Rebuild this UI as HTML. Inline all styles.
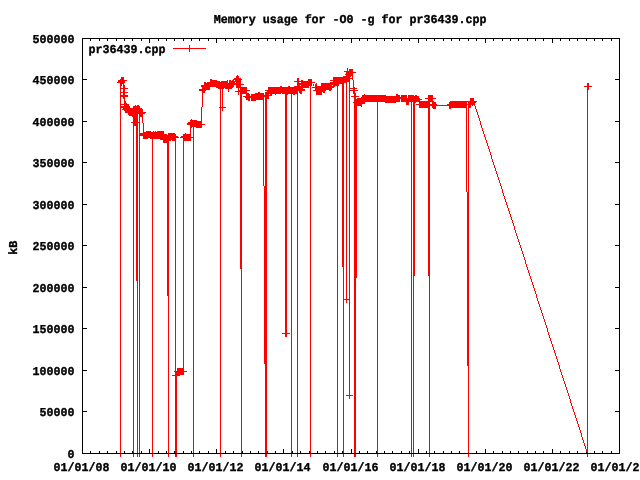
<!DOCTYPE html>
<html><head><meta charset="utf-8"><title>Memory usage for -O0 -g for pr36439.cpp</title>
<style>
html,body{margin:0;padding:0;background:#fff;overflow:hidden}
svg{display:block}
text{font-family:"Liberation Mono","DejaVu Sans Mono",monospace;font-weight:bold;font-size:11.667px;fill:#000;stroke:#000;stroke-width:0.35px;text-rendering:geometricPrecision;}
</style></head>
<body>
<svg width="640" height="480" viewBox="0 0 640 480">
<rect width="640" height="480" fill="#fff"/>
<g>
<text transform="translate(350.1 23) scale(1 1.03)" text-anchor="middle">Memory usage for -O0 -g for pr36439.cpp</text>
<text transform="translate(74.5 457.8) scale(1 1.03)" text-anchor="end">0</text>
<text transform="translate(74.5 415.8) scale(1 1.03)" text-anchor="end">50000</text>
<text transform="translate(74.5 374.8) scale(1 1.03)" text-anchor="end">100000</text>
<text transform="translate(74.5 332.8) scale(1 1.03)" text-anchor="end">150000</text>
<text transform="translate(74.5 291.8) scale(1 1.03)" text-anchor="end">200000</text>
<text transform="translate(74.5 249.8) scale(1 1.03)" text-anchor="end">250000</text>
<text transform="translate(74.5 208.8) scale(1 1.03)" text-anchor="end">300000</text>
<text transform="translate(74.5 166.8) scale(1 1.03)" text-anchor="end">350000</text>
<text transform="translate(74.5 125.8) scale(1 1.03)" text-anchor="end">400000</text>
<text transform="translate(74.5 83.8) scale(1 1.03)" text-anchor="end">450000</text>
<text transform="translate(74.5 42.8) scale(1 1.03)" text-anchor="end">500000</text>
<text transform="translate(53.5 470.8) scale(1 1.03)" text-anchor="start">01/01/08</text>
<text transform="translate(120.5 470.8) scale(1 1.03)" text-anchor="start">01/01/10</text>
<text transform="translate(187.5 470.8) scale(1 1.03)" text-anchor="start">01/01/12</text>
<text transform="translate(254.5 470.8) scale(1 1.03)" text-anchor="start">01/01/14</text>
<text transform="translate(322.5 470.8) scale(1 1.03)" text-anchor="start">01/01/16</text>
<text transform="translate(389.5 470.8) scale(1 1.03)" text-anchor="start">01/01/18</text>
<text transform="translate(456.5 470.8) scale(1 1.03)" text-anchor="start">01/01/20</text>
<text transform="translate(523.5 470.8) scale(1 1.03)" text-anchor="start">01/01/22</text>
<text transform="translate(590.5 470.8) scale(1 1.03)" text-anchor="start">01/01/2<tspan dx="1.5">4</tspan></text>
<text transform="translate(88.5 52.8) scale(1 1.03)" text-anchor="start">pr36439.cpp</text>
<text transform="translate(16.8 247.8) rotate(-90) scale(1 1.03)" text-anchor="middle">kB</text>
</g>
<path shape-rendering="crispEdges" fill="#000" d="M83 453h4v1h-4zM615 453h4v1h-4zM83 411h4v1h-4zM615 411h4v1h-4zM83 370h4v1h-4zM615 370h4v1h-4zM83 328h4v1h-4zM615 328h4v1h-4zM83 287h4v1h-4zM615 287h4v1h-4zM83 245h4v1h-4zM615 245h4v1h-4zM83 204h4v1h-4zM615 204h4v1h-4zM83 162h4v1h-4zM615 162h4v1h-4zM83 121h4v1h-4zM615 121h4v1h-4zM83 79h4v1h-4zM615 79h4v1h-4zM83 38h4v1h-4zM615 38h4v1h-4zM82 449h1v4h-1zM82 39h1v4h-1zM90 451h1v2h-1zM90 39h1v2h-1zM99 451h1v2h-1zM99 39h1v2h-1zM107 451h1v2h-1zM107 39h1v2h-1zM116 451h1v2h-1zM116 39h1v2h-1zM124 451h1v2h-1zM124 39h1v2h-1zM132 451h1v2h-1zM132 39h1v2h-1zM141 451h1v2h-1zM141 39h1v2h-1zM149 449h1v4h-1zM149 39h1v4h-1zM158 451h1v2h-1zM158 39h1v2h-1zM166 451h1v2h-1zM166 39h1v2h-1zM174 451h1v2h-1zM174 39h1v2h-1zM183 451h1v2h-1zM183 39h1v2h-1zM191 451h1v2h-1zM191 39h1v2h-1zM199 451h1v2h-1zM199 39h1v2h-1zM208 451h1v2h-1zM208 39h1v2h-1zM216 449h1v4h-1zM216 39h1v4h-1zM225 451h1v2h-1zM225 39h1v2h-1zM233 451h1v2h-1zM233 39h1v2h-1zM242 451h1v2h-1zM242 39h1v2h-1zM250 451h1v2h-1zM250 39h1v2h-1zM258 451h1v2h-1zM258 39h1v2h-1zM267 451h1v2h-1zM267 39h1v2h-1zM275 451h1v2h-1zM275 39h1v2h-1zM283 449h1v4h-1zM283 39h1v4h-1zM292 451h1v2h-1zM292 39h1v2h-1zM300 451h1v2h-1zM300 39h1v2h-1zM309 451h1v2h-1zM309 39h1v2h-1zM317 451h1v2h-1zM317 39h1v2h-1zM325 451h1v2h-1zM325 39h1v2h-1zM334 451h1v2h-1zM334 39h1v2h-1zM342 451h1v2h-1zM342 39h1v2h-1zM351 449h1v4h-1zM351 39h1v4h-1zM359 451h1v2h-1zM359 39h1v2h-1zM367 451h1v2h-1zM367 39h1v2h-1zM376 451h1v2h-1zM376 39h1v2h-1zM384 451h1v2h-1zM384 39h1v2h-1zM392 451h1v2h-1zM392 39h1v2h-1zM401 451h1v2h-1zM401 39h1v2h-1zM409 451h1v2h-1zM409 39h1v2h-1zM418 449h1v4h-1zM418 39h1v4h-1zM426 451h1v2h-1zM426 39h1v2h-1zM434 451h1v2h-1zM434 39h1v2h-1zM443 451h1v2h-1zM443 39h1v2h-1zM451 451h1v2h-1zM451 39h1v2h-1zM459 451h1v2h-1zM459 39h1v2h-1zM468 451h1v2h-1zM468 39h1v2h-1zM476 451h1v2h-1zM476 39h1v2h-1zM485 449h1v4h-1zM485 39h1v4h-1zM493 451h1v2h-1zM493 39h1v2h-1zM502 451h1v2h-1zM502 39h1v2h-1zM510 451h1v2h-1zM510 39h1v2h-1zM518 451h1v2h-1zM518 39h1v2h-1zM527 451h1v2h-1zM527 39h1v2h-1zM535 451h1v2h-1zM535 39h1v2h-1zM543 451h1v2h-1zM543 39h1v2h-1zM552 449h1v4h-1zM552 39h1v4h-1zM560 451h1v2h-1zM560 39h1v2h-1zM569 451h1v2h-1zM569 39h1v2h-1zM577 451h1v2h-1zM577 39h1v2h-1zM586 451h1v2h-1zM586 39h1v2h-1zM594 451h1v2h-1zM594 39h1v2h-1zM602 451h1v2h-1zM602 39h1v2h-1zM611 451h1v2h-1zM611 39h1v2h-1zM619 449h1v4h-1zM619 39h1v4h-1z"/>
<path shape-rendering="crispEdges" fill="#f00" d="M118 80v3h1v-3zM119 80v3h1v-3zM120 79v378h1v-378zM121 77v9h1v-9zM122 77v7h1v-7zM123 77v22h1v-22zM123 106v4h1v-4zM124 80v3h1v-3zM124 85v26h1v-26zM125 101v12h1v-12zM126 103v10h1v-10zM127 104v9h1v-9zM128 104v11h1v-11zM129 106v10h1v-10zM130 108v8h1v-8zM131 108v8h1v-8zM132 108v9h1v-9zM133 106v351h1v-351zM134 106v20h1v-20zM135 105v21h1v-21zM136 106v175h1v-175zM137 105v352h1v-352zM138 105v9h1v-9zM139 106v351h1v-351zM140 108v9h1v-9zM140 133v3h1v-3zM141 108v9h1v-9zM141 133v3h1v-3zM142 109v14h1v-14zM142 133v3h1v-3zM143 123v16h1v-16zM144 132v7h1v-7zM145 132v7h1v-7zM146 131v8h1v-8zM147 131v8h1v-8zM148 131v7h1v-7zM149 131v7h1v-7zM150 131v8h1v-8zM151 132v7h1v-7zM152 132v325h1v-325zM153 131v8h1v-8zM154 132v7h1v-7zM155 131v8h1v-8zM156 132v7h1v-7zM157 131v8h1v-8zM158 131v8h1v-8zM159 131v8h1v-8zM160 131v9h1v-9zM161 131v9h1v-9zM162 131v9h1v-9zM163 131v12h1v-12zM164 134v9h1v-9zM165 134v9h1v-9zM166 134v9h1v-9zM167 135v161h1v-161zM168 133v324h1v-324zM169 133v8h1v-8zM170 133v8h1v-8zM171 133v7h1v-7zM172 133v8h1v-8zM173 133v8h1v-8zM174 133v8h1v-8zM175 134v323h1v-323zM176 371v86h1v-86zM177 368v8h1v-8zM178 368v8h1v-8zM179 368v8h1v-8zM180 368v7h1v-7zM181 368v7h1v-7zM182 368v7h1v-7zM183 134v241h1v-241zM184 134v7h1v-7zM185 133v8h1v-8zM186 134v7h1v-7zM187 134v7h1v-7zM188 122v3h1v-3zM188 134v7h1v-7zM189 45v7h1v-7zM189 122v3h1v-3zM189 134v7h1v-7zM190 120v21h1v-21zM191 119v9h1v-9zM192 120v7h1v-7zM193 120v337h1v-337zM194 120v7h1v-7zM195 120v7h1v-7zM196 120v8h1v-8zM197 121v7h1v-7zM198 121v7h1v-7zM199 121v7h1v-7zM200 121v7h1v-7zM201 107v21h1v-21zM202 85v22h1v-22zM203 85v8h1v-8zM204 82v11h1v-11zM205 82v9h1v-9zM206 83v7h1v-7zM207 82v8h1v-8zM208 82v8h1v-8zM209 82v8h1v-8zM210 79v8h1v-8zM211 79v8h1v-8zM212 80v7h1v-7zM213 80v7h1v-7zM214 80v7h1v-7zM215 80v7h1v-7zM216 80v8h1v-8zM217 81v7h1v-7zM218 81v8h1v-8zM219 81v8h1v-8zM220 82v375h1v-375zM221 81v8h1v-8zM222 81v30h1v-30zM223 81v8h1v-8zM224 81v7h1v-7zM225 81v8h1v-8zM226 81v8h1v-8zM227 80v9h1v-9zM228 83v9h1v-9zM229 80v9h1v-9zM230 80v9h1v-9zM231 81v8h1v-8zM232 80v8h1v-8zM233 79v8h1v-8zM234 81v4h1v-4zM235 78v4h1v-4zM236 76v12h1v-12zM237 75v13h1v-13zM238 76v19h1v-19zM239 78v10h1v-10zM240 78v191h1v-191zM241 87v370h1v-370zM242 87v7h1v-7zM243 87v7h1v-7zM244 87v7h1v-7zM245 87v7h1v-7zM246 87v13h1v-13zM247 93v7h1v-7zM248 93v8h1v-8zM249 94v7h1v-7zM251 94v7h1v-7zM252 94v7h1v-7zM253 94v7h1v-7zM254 94v7h1v-7zM255 93v8h1v-8zM256 93v7h1v-7zM257 93v7h1v-7zM258 92v8h1v-8zM259 92v8h1v-8zM260 93v7h1v-7zM261 93v7h1v-7zM262 93v7h1v-7zM263 93v93h1v-93zM264 186v178h1v-178zM265 92v365h1v-365zM266 92v365h1v-365zM267 90v9h1v-9zM268 87v12h1v-12zM269 87v7h1v-7zM270 87v9h1v-9zM271 87v9h1v-9zM272 87v7h1v-7zM273 87v7h1v-7zM274 87v7h1v-7zM275 87v8h1v-8zM276 87v7h1v-7zM277 87v7h1v-7zM278 87v7h1v-7zM279 87v7h1v-7zM280 86v8h1v-8zM281 86v7h1v-7zM282 87v7h1v-7zM283 87v7h1v-7zM284 87v7h1v-7zM285 87v250h1v-250zM286 87v250h1v-250zM287 87v8h1v-8zM288 86v8h1v-8zM289 86v8h1v-8zM290 87v7h1v-7zM291 87v370h1v-370zM292 87v7h1v-7zM293 87v8h1v-8zM294 86v9h1v-9zM295 86v8h1v-8zM296 86v8h1v-8zM297 78v379h1v-379zM298 78v13h1v-13zM299 83v10h1v-10zM300 86v8h1v-8zM301 80v14h1v-14zM302 80v11h1v-11zM303 81v7h1v-7zM304 81v7h1v-7zM305 81v7h1v-7zM306 81v7h1v-7zM307 81v7h1v-7zM308 79v9h1v-9zM309 79v7h1v-7zM310 79v378h1v-378zM311 79v7h1v-7zM315 84v7h1v-7zM316 83v12h1v-12zM317 86v9h1v-9zM318 86v9h1v-9zM319 86v9h1v-9zM320 86v9h1v-9zM321 83v12h1v-12zM322 83v9h1v-9zM323 83v10h1v-10zM324 83v10h1v-10zM325 83v8h1v-8zM326 83v7h1v-7zM327 83v7h1v-7zM328 83v7h1v-7zM329 83v8h1v-8zM330 82v9h1v-9zM331 82v8h1v-8zM332 82v3h1v-3zM333 77v11h1v-11zM334 77v10h1v-10zM335 77v9h1v-9zM336 77v9h1v-9zM337 77v380h1v-380zM338 77v9h1v-9zM339 77v7h1v-7zM340 77v7h1v-7zM341 77v7h1v-7zM342 77v190h1v-190zM343 76v381h1v-381zM344 76v7h1v-7zM345 76v7h1v-7zM346 71v232h1v-232zM347 68v14h1v-14zM348 71v11h1v-11zM349 69v330h1v-330zM350 69v8h1v-8zM351 69v7h1v-7zM352 69v11h1v-11zM353 80v14h1v-14zM354 87v370h1v-370zM355 93v364h1v-364zM356 99v179h1v-179zM357 98v8h1v-8zM358 98v8h1v-8zM359 98v8h1v-8zM360 98v8h1v-8zM361 97v10h1v-10zM362 95v9h1v-9zM363 95v9h1v-9zM364 94v10h1v-10zM365 95v7h1v-7zM366 95v7h1v-7zM367 95v7h1v-7zM368 95v7h1v-7zM369 95v7h1v-7zM370 95v7h1v-7zM371 95v7h1v-7zM372 95v7h1v-7zM373 95v7h1v-7zM374 95v7h1v-7zM375 95v7h1v-7zM376 95v7h1v-7zM377 95v362h1v-362zM378 95v7h1v-7zM379 95v7h1v-7zM380 95v7h1v-7zM381 95v7h1v-7zM382 95v7h1v-7zM383 95v7h1v-7zM384 95v7h1v-7zM385 95v8h1v-8zM386 96v7h1v-7zM387 96v7h1v-7zM388 96v7h1v-7zM389 96v7h1v-7zM390 96v7h1v-7zM391 96v7h1v-7zM392 96v7h1v-7zM393 96v7h1v-7zM394 96v7h1v-7zM395 96v7h1v-7zM396 94v8h1v-8zM397 94v8h1v-8zM398 95v7h1v-7zM399 95v7h1v-7zM401 95v7h1v-7zM402 95v7h1v-7zM403 95v7h1v-7zM404 95v7h1v-7zM405 95v7h1v-7zM406 95v10h1v-10zM407 98v7h1v-7zM408 95v10h1v-10zM409 95v7h1v-7zM410 95v7h1v-7zM411 95v362h1v-362zM412 95v7h1v-7zM413 95v362h1v-362zM414 96v180h1v-180zM415 95v8h1v-8zM416 95v7h1v-7zM417 96v6h1v-6zM418 96v6h1v-6zM419 98v10h1v-10zM420 101v7h1v-7zM421 101v7h1v-7zM422 101v7h1v-7zM423 101v7h1v-7zM424 101v7h1v-7zM425 101v7h1v-7zM426 101v7h1v-7zM427 101v7h1v-7zM428 95v181h1v-181zM429 95v362h1v-362zM430 95v7h1v-7zM431 95v7h1v-7zM432 95v13h1v-13zM433 101v8h1v-8zM434 102v7h1v-7zM435 102v7h1v-7zM449 102v7h1v-7zM450 101v8h1v-8zM451 101v7h1v-7zM452 101v7h1v-7zM453 101v7h1v-7zM454 101v7h1v-7zM455 101v7h1v-7zM456 101v7h1v-7zM457 101v7h1v-7zM458 101v7h1v-7zM459 101v7h1v-7zM460 101v7h1v-7zM461 101v7h1v-7zM462 101v7h1v-7zM463 101v7h1v-7zM464 101v7h1v-7zM465 101v7h1v-7zM466 101v91h1v-91zM467 192v174h1v-174zM468 101v356h1v-356zM469 101v7h1v-7zM470 98v10h1v-10zM471 98v7h1v-7zM472 98v8h1v-8zM473 98v7h1v-7zM474 101v5h1v-5zM475 106v3h1v-3zM476 109v3h1v-3zM477 112v3h1v-3zM478 115v3h1v-3zM479 118v3h1v-3zM480 121v4h1v-4zM481 125v3h1v-3zM482 128v3h1v-3zM483 131v3h1v-3zM484 134v3h1v-3zM485 137v3h1v-3zM486 140v3h1v-3zM487 143v3h1v-3zM488 146v3h1v-3zM489 149v3h1v-3zM490 152v3h1v-3zM491 155v4h1v-4zM492 159v3h1v-3zM493 162v3h1v-3zM494 165v3h1v-3zM495 168v3h1v-3zM496 171v3h1v-3zM497 174v3h1v-3zM498 177v3h1v-3zM499 180v3h1v-3zM500 183v3h1v-3zM501 186v3h1v-3zM502 189v4h1v-4zM503 193v3h1v-3zM504 196v3h1v-3zM505 199v3h1v-3zM506 202v3h1v-3zM507 205v3h1v-3zM508 208v3h1v-3zM509 211v3h1v-3zM510 214v3h1v-3zM511 217v3h1v-3zM512 220v3h1v-3zM513 223v3h1v-3zM514 226v4h1v-4zM515 230v3h1v-3zM516 233v3h1v-3zM517 236v3h1v-3zM518 239v3h1v-3zM519 242v3h1v-3zM520 245v3h1v-3zM521 248v3h1v-3zM522 251v3h1v-3zM523 254v3h1v-3zM524 257v3h1v-3zM525 260v4h1v-4zM526 264v3h1v-3zM527 267v3h1v-3zM528 270v3h1v-3zM529 273v3h1v-3zM530 276v3h1v-3zM531 279v3h1v-3zM532 282v3h1v-3zM533 285v3h1v-3zM534 288v3h1v-3zM535 291v3h1v-3zM536 294v4h1v-4zM537 298v3h1v-3zM538 301v3h1v-3zM539 304v3h1v-3zM540 307v3h1v-3zM541 310v3h1v-3zM542 313v3h1v-3zM543 316v3h1v-3zM544 319v3h1v-3zM545 322v3h1v-3zM546 325v3h1v-3zM547 328v4h1v-4zM548 332v3h1v-3zM549 335v3h1v-3zM550 338v3h1v-3zM551 341v3h1v-3zM552 344v3h1v-3zM553 347v3h1v-3zM554 350v3h1v-3zM555 353v3h1v-3zM556 356v3h1v-3zM557 359v3h1v-3zM558 362v3h1v-3zM559 365v4h1v-4zM560 369v3h1v-3zM561 372v3h1v-3zM562 375v3h1v-3zM563 378v3h1v-3zM564 381v3h1v-3zM565 384v3h1v-3zM566 387v3h1v-3zM567 390v3h1v-3zM568 393v3h1v-3zM569 396v3h1v-3zM570 399v4h1v-4zM571 403v3h1v-3zM572 406v3h1v-3zM573 409v3h1v-3zM574 412v3h1v-3zM575 415v3h1v-3zM576 418v3h1v-3zM577 421v3h1v-3zM578 424v3h1v-3zM579 427v3h1v-3zM580 430v3h1v-3zM581 433v4h1v-4zM582 437v3h1v-3zM583 440v3h1v-3zM584 443v3h1v-3zM585 446v3h1v-3zM586 449v3h1v-3zM587 83v374h1v-374zM588 83v7h1v-7zM173 48h16v1h-16zM190 48h16v1h-16zM344 71h2v1h-2zM353 72h3v1h-3zM345 74h1v1h-1zM234 78h1v1h-1zM350 78h2v1h-2zM234 79h1v1h-1zM241 79h1v1h-1zM125 80h2v1h-2zM330 80h3v1h-3zM294 81h3v1h-3zM299 81h2v1h-2zM117 82h1v1h-1zM312 82h3v1h-3zM235 83h1v1h-1zM300 83h1v1h-1zM235 84h1v1h-1zM241 84h3v1h-3zM300 84h1v1h-1zM313 84h1v1h-1zM201 85h1v1h-1zM313 85h1v1h-1zM201 86h1v1h-1zM332 86h1v1h-1zM584 86h3v1h-3zM589 86h3v1h-3zM312 87h3v1h-3zM332 87h1v1h-1zM121 88h2v1h-2zM125 88h3v1h-3zM350 88h3v1h-3zM355 88h2v1h-2zM199 89h3v1h-3zM303 89h2v1h-2zM199 90h3v1h-3zM239 90h1v1h-1zM247 90h3v1h-3zM265 90h2v1h-2zM303 90h2v1h-2zM313 90h2v1h-2zM350 90h3v1h-3zM355 90h3v1h-3zM235 91h3v1h-3zM239 91h1v1h-1zM121 92h2v1h-2zM125 92h3v1h-3zM121 95h2v1h-2zM125 95h3v1h-3zM264 95h1v1h-1zM269 95h1v1h-1zM121 96h2v1h-2zM125 96h3v1h-3zM243 96h3v1h-3zM250 96h1v1h-1zM264 96h1v1h-1zM351 96h3v1h-3zM356 96h3v1h-3zM245 97h1v1h-1zM250 97h1v1h-1zM400 97h1v1h-1zM400 98h1v1h-1zM425 98h3v1h-3zM433 98h3v1h-3zM420 99h2v1h-2zM467 101h1v1h-1zM475 101h2v1h-2zM353 102h1v1h-1zM475 102h1v1h-1zM121 104h3v1h-3zM416 104h3v1h-3zM430 104h2v1h-2zM436 104h1v1h-1zM447 104h2v1h-2zM467 104h1v1h-1zM430 105h2v1h-2zM436 105h13v1h-13zM121 106h2v1h-2zM121 107h2v1h-2zM219 107h1v1h-1zM221 107h1v1h-1zM223 107h3v1h-3zM122 109h1v1h-1zM143 112h3v1h-3zM143 113h2v1h-2zM131 122h2v1h-2zM138 122h1v1h-1zM187 123h1v1h-1zM187 124h1v1h-1zM202 124h3v1h-3zM176 136h2v1h-2zM181 136h2v1h-2zM176 137h3v1h-3zM180 137h3v1h-3zM191 137h2v1h-2zM344 299h2v1h-2zM347 299h2v1h-2zM282 333h3v1h-3zM287 333h3v1h-3zM174 371h1v1h-1zM184 371h3v1h-3zM172 375h3v1h-3zM346 395h3v1h-3zM350 395h3v1h-3zM117 453h3v1h-3zM121 453h3v1h-3zM130 453h3v1h-3zM134 453h3v1h-3zM138 453h1v1h-1zM140 453h3v1h-3zM149 453h3v1h-3zM153 453h3v1h-3zM165 453h3v1h-3zM169 453h6v1h-6zM177 453h3v1h-3zM190 453h3v1h-3zM194 453h3v1h-3zM217 453h3v1h-3zM221 453h3v1h-3zM238 453h3v1h-3zM242 453h3v1h-3zM262 453h3v1h-3zM267 453h3v1h-3zM288 453h3v1h-3zM292 453h5v1h-5zM298 453h3v1h-3zM307 453h3v1h-3zM311 453h3v1h-3zM334 453h3v1h-3zM338 453h5v1h-5zM344 453h3v1h-3zM351 453h3v1h-3zM356 453h3v1h-3zM374 453h3v1h-3zM378 453h3v1h-3zM408 453h3v1h-3zM412 453h1v1h-1zM414 453h3v1h-3zM426 453h3v1h-3zM430 453h3v1h-3zM465 453h3v1h-3zM469 453h3v1h-3zM584 453h3v1h-3zM588 453h3v1h-3z"/>
<path shape-rendering="crispEdges" fill="#000" d="M82 38h538v1h-538zM82 453h538v1h-538zM82 38h1v416h-1zM619 38h1v416h-1z"/>
</svg>
</body></html>
